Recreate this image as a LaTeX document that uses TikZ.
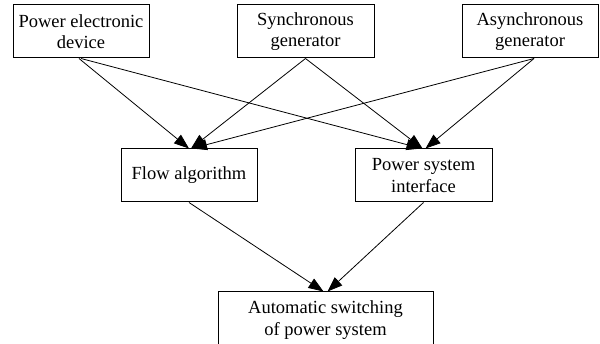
\documentclass[tikz,border=0pt]{standalone}
\usepackage{fontspec}
\setmainfont{Liberation Serif}
\usetikzlibrary{arrows.meta}
\begin{document}
\begin{tikzpicture}[x=1pt,y=-1pt,
  box/.style={draw,line width=1pt,inner sep=0pt,align=center,minimum height=53pt,font=\fontsize{18.5}{21.5}\selectfont},
  link/.style={line width=0.8pt,-{Triangle[length=15pt,width=11pt]}}]
\useasboundingbox[fill=white] (0,0) rectangle (600,344);
\node[box,minimum width=136pt] (ped) at (81,31.5) {Power electronic\\device};
\node[box,minimum width=137pt] (sync) at (305.5,31.5) {Synchronous\\generator};
\node[box,minimum width=136pt] (async) at (530,31.5) {Asynchronous\\generator};
\node[box,minimum width=136pt] (flow) at (189,175.5) {Flow algorithm};
\node[box,minimum width=137pt] (psi) at (423.5,175.5) {Power system\\interface};
\node[box,minimum width=215pt,minimum height=56pt] (auto) at (325.5,320) {Automatic switching\\of power system};
\draw[link] ([xshift=-2pt]ped.south) -- (flow.north);
\draw[link] (ped.south) -- ([xshift=-2pt]psi.north);
\draw[link] (sync.south) -- ([xshift=2pt]flow.north);
\draw[link] (sync.south) -- ([xshift=-1pt]psi.north);
\draw[link] ([xshift=4pt]async.south) -- ([xshift=3pt]flow.north);
\draw[link] ([xshift=4pt]async.south) -- ([xshift=2pt]psi.north);
\draw[link] (flow.south) -- ([xshift=-2pt]auto.north);
\draw[link] (psi.south) -- ([xshift=2pt]auto.north);
\end{tikzpicture}
\end{document}
